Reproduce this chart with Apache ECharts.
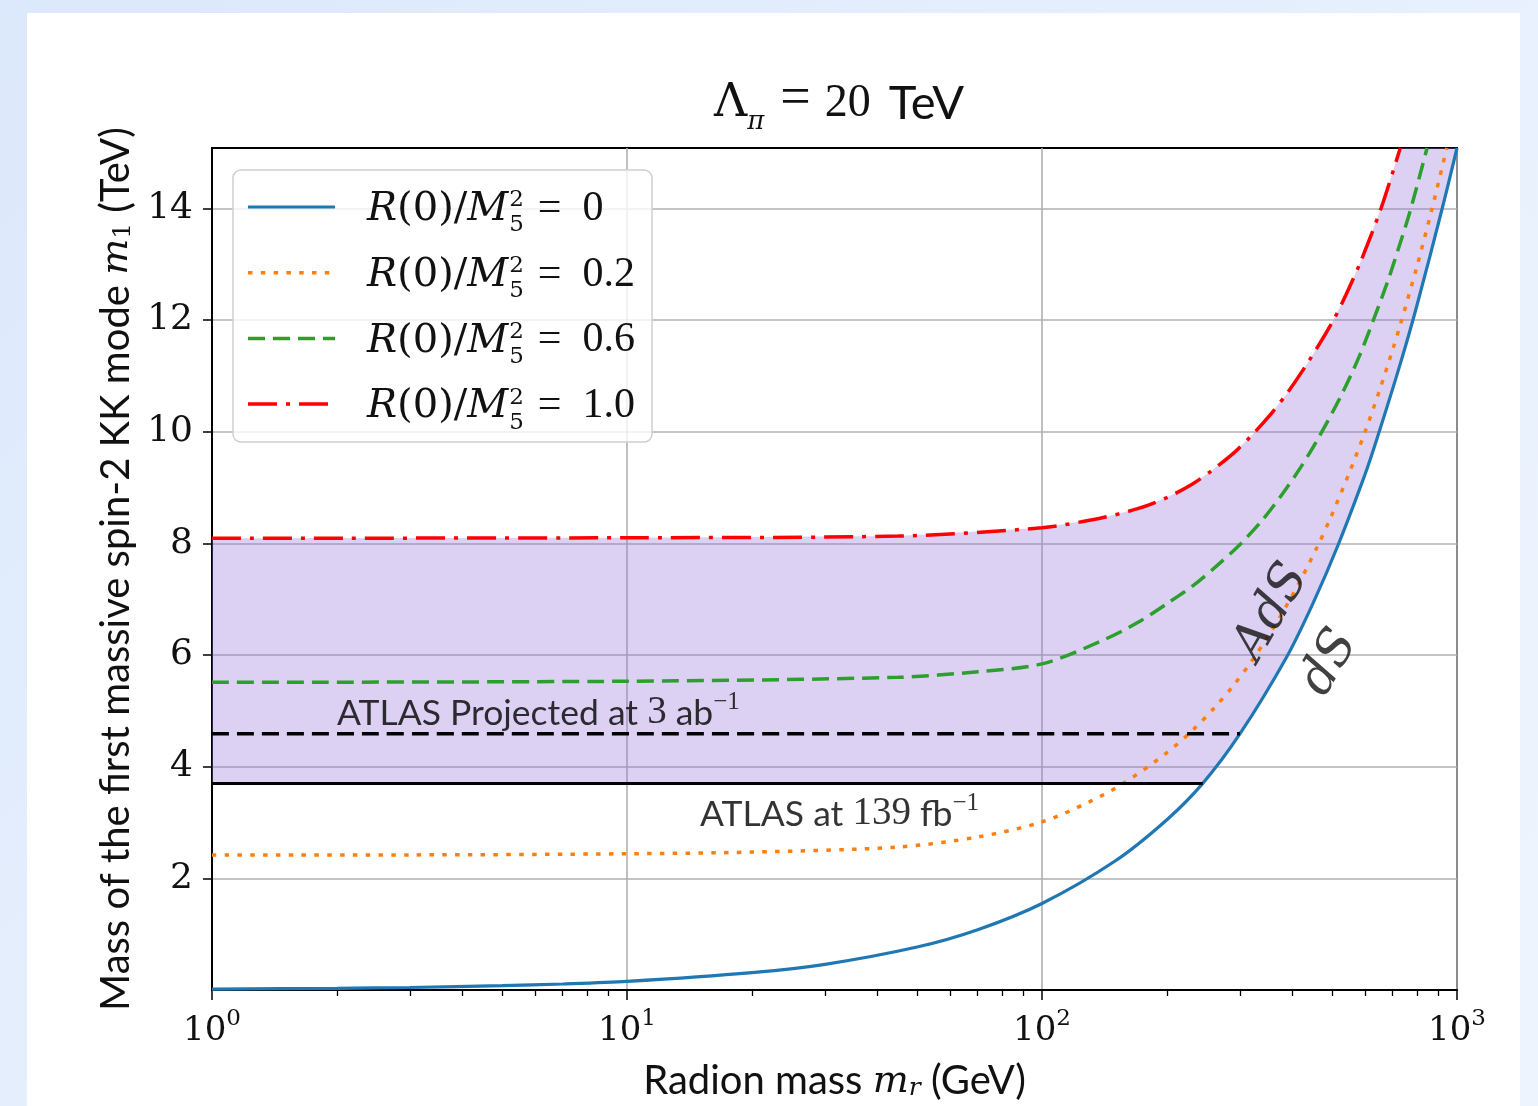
<!DOCTYPE html>
<html><head><meta charset="utf-8">
<script src="https://cdn.jsdelivr.net/npm/echarts@6/dist/echarts.min.js"></script>
<style>
html,body{margin:0;padding:0;width:1538px;height:1106px;overflow:hidden;background:linear-gradient(135deg,#dce8fb 0%,#e8f1fd 60%,#eef4fd 100%);}
#card{position:absolute;left:27px;top:13px;width:1493px;height:1093px;background:#fff;}
#chart{position:absolute;left:0;top:0;width:1538px;height:1106px;}
</style></head>
<body><div id="card"></div><div id="chart"></div>
<script>
// ---------------- data ----------------
const mrBlue = [1, 2, 3, 5, 7, 10, 20, 30, 50, 70, 100, 150, 200, 244, 300, 389, 450, 517, 600, 640, 729, 800, 925, 1000];
const m1Blue = [0.015, 0.03, 0.045, 0.077, 0.107, 0.153, 0.31, 0.46, 0.77, 1.08, 1.55, 2.31, 3.05, 3.70, 4.59, 5.97, 6.93, 7.97, 9.23, 9.85, 11.2, 12.25, 14.05, 15.08];

const mrOrange = [1, 3, 10, 20, 45, 70, 100, 130, 157, 200, 232, 260, 289, 320, 348, 380, 419, 460, 494, 552, 600, 650, 702, 729, 800, 871, 945];
const m1Orange = [2.42, 2.42, 2.44, 2.47, 2.56, 2.74, 3.01, 3.37, 3.70, 4.25, 4.67, 5.05, 5.45, 5.89, 6.3, 6.76, 7.33, 7.93, 8.43, 9.29, 9.99, 10.73, 11.5, 11.9, 12.95, 14.0, 15.08];

const mrGreen = [1, 10, 45, 70, 100, 138, 170, 200, 232, 264, 300, 340, 381, 420, 459, 522, 580, 629, 680, 722, 771, 847];
const m1Green = [5.51, 5.53, 5.60, 5.70, 5.84, 6.24, 6.58, 6.92, 7.25, 7.6, 7.98, 8.42, 8.9, 9.36, 9.83, 10.6, 11.33, 12.0, 12.68, 13.27, 13.95, 15.08];

const mrRed = [1, 10, 45, 100, 138, 170, 200, 230, 254, 290, 317, 350, 389, 440, 504, 540, 584, 656, 730];
const m1Red = [8.09, 8.10, 8.13, 8.28, 8.45, 8.62, 8.82, 9.06, 9.28, 9.62, 9.9, 10.25, 10.68, 11.27, 12.0, 12.45, 13.02, 14.0, 15.08];

const atlasNowX = [1, 244];   const atlasNowY = 3.70;   // ATLAS at 139 fb^-1
const atlasProjX = [1, 300];  const atlasProjY = 4.59;  // ATLAS projected 3 ab^-1

const legendValues = ['0', '0.2', '0.6', '1.0'];
const xTicksMajor = [1, 10, 100, 1000];
const xTicksMinor = [2,3,4,5,6,7,8,9, 20,30,40,50,60,70,80,90, 200,300,400,500,600,700,800,900];
const yTicks = [2, 4, 6, 8, 10, 12, 14];

const annoProj = [2.0, 5.0];
const anno139 = [15.0, 3.19];
const annoAdS = [358, 6.76];
const annoDS = [494, 5.86];

// ---------------- styling ----------------
const SERIF = "'DejaVu Serif', serif";
const SERIF2 = "'Liberation Serif', serif";
const SANS = "Lato, 'Open Sans', sans-serif";
const colors = ['#1f77b4', '#ff7f0e', '#2ca02c', '#ff0000'];
const widths = [3.2, 3.5, 3.5, 3.5];
const dashes = [null, [4.5, 8.3], [17, 8], [29, 9, 4, 9]];

const zip = (xs, ys) => xs.map((x, i) => [x, ys[i]]);
const fillPoly = zip(mrRed, m1Red)
  .concat(zip(mrBlue, m1Blue).filter(p => p[1] >= atlasNowY).reverse())
  .concat([[atlasNowX[0], atlasNowY]]);

function lineSeries(name, data, color, width, dash) {
  return {
    name, type: 'line', data, symbol: 'none', showSymbol: false,
    smooth: 0.3, z: 3, silent: true, clip: true,
    lineStyle: { color, width, type: dash || 'solid', cap: 'butt' }
  };
}

const series = [
  {
    type: 'custom', z: 1, silent: true, clip: true, data: [[1, 8]],
    renderItem: (params, api) => ({
      type: 'polygon',
      shape: { points: fillPoly.map(p => api.coord(p)) },
      style: { fill: 'rgba(147,112,219,0.32)' }
    })
  },
  lineSeries('R0', zip(mrBlue, m1Blue), colors[0], widths[0], dashes[0]),
  lineSeries('R0.2', zip(mrOrange, m1Orange), colors[1], widths[1], dashes[1]),
  lineSeries('R0.6', zip(mrGreen, m1Green), colors[2], widths[2], dashes[2]),
  lineSeries('R1.0', zip(mrRed, m1Red), colors[3], widths[3], dashes[3]),
  lineSeries('ATLAS139', atlasNowX.map(x => [x, atlasNowY]), '#000', 3, null),
  lineSeries('ATLASproj', atlasProjX.map(x => [x, atlasProjY]), '#000', 3.5, [17, 8]),
  {
    type: 'scatter', symbolSize: 0, silent: true, z: 5,
    data: [
      { value: annoProj, label: { show: true, position: 'right', distance: 0,
          formatter: '{s|ATLAS Projected at }{n|3}{s| ab}{sup|−1}' } },
      { value: anno139, label: { show: true, position: 'right', distance: 0,
          formatter: '{s|ATLAS at }{n|139}{s| fb}{sup|−1}' } },
      { value: annoAdS, label: { show: true, position: 'inside', rotate: 60,
          formatter: '{m|AdS}' } },
      { value: annoDS, label: { show: true, position: 'inside', rotate: 60,
          formatter: '{m|dS}' } }
    ],
    label: {
      color: '#000',
      rich: {
        s: { fontFamily: SANS, fontSize: 35.5, color: '#000', lineHeight: 42, verticalAlign: 'bottom' },
        n: { fontFamily: SERIF2, fontSize: 39, color: '#000', lineHeight: 42, verticalAlign: 'bottom' },
        sup: { fontFamily: SERIF2, fontSize: 25, color: '#000', lineHeight: 22, verticalAlign: 'top' },
        m: { fontFamily: SERIF, fontStyle: 'italic', fontSize: 50, color: '#111' }
      }
    }
  }
];

// ---------------- legend (drawn as graphic) ----------------
const mctx = document.createElement('canvas').getContext('2d');
function tw(text, font) { mctx.font = font; return mctx.measureText(text).width; }
const LF = 40, LFs = 23;
const fItal = `italic ${LF}px ${SERIF}`, fNorm = `${LF}px ${SERIF}`, fSmall = `${LFs}px ${SERIF}`;
const fVal = `42px ${SERIF2}`;
const graphics = [{
  type: 'rect', z: 10, silent: true,
  shape: { x: 233, y: 170, width: 419, height: 272, r: 8 },
  style: { fill: 'rgba(255,255,255,0.8)', stroke: '#cfcfcf', lineWidth: 1.5 }
}];
legendValues.forEach((val, i) => {
  const cy = 207 + i * 65.7;
  graphics.push({ type: 'line', z: 11, silent: true,
    shape: { x1: 248, y1: cy, x2: 335, y2: cy },
    style: { stroke: colors[i], lineWidth: widths[i], lineDash: dashes[i] || null } });
  let x = 367;
  const parts = [['R', fItal], ['(0)/', fNorm], ['M', fItal]];
  parts.forEach(([t, f]) => {
    graphics.push({ type: 'text', z: 11, silent: true, x, y: cy + 23,
      style: { text: t, font: f, fill: '#111', verticalAlign: 'bottom' } });
    x += tw(t, f);
  });
  const xs = x + 1;
  graphics.push({ type: 'text', z: 11, silent: true, x: xs, y: cy + 5,
    style: { text: '2', font: fSmall, fill: '#111', verticalAlign: 'bottom' } });
  graphics.push({ type: 'text', z: 11, silent: true, x: xs, y: cy + 30,
    style: { text: '5', font: fSmall, fill: '#111', verticalAlign: 'bottom' } });
  x = xs + tw('2', fSmall) + 14;
  graphics.push({ type: 'text', z: 11, silent: true, x, y: cy + 23,
    style: { text: '=  ' + val, font: fVal, fill: '#111', verticalAlign: 'bottom' } });
});

const option = {
  animation: false,
  backgroundColor: 'transparent',
  title: {
    text: '{L|Λ}{sub|π}{eq|=}{n|20}{s|TeV}',
    left: 834, top: 72, textAlign: 'center',
    textStyle: {
      fontWeight: 'normal',
      rich: {
        L: { fontFamily: SERIF, fontWeight: 'normal', fontSize: 46, color: '#111', lineHeight: 50, verticalAlign: 'bottom' },
        sub: { fontFamily: SERIF, fontWeight: 'normal', fontStyle: 'italic', fontSize: 26, color: '#111', lineHeight: 40, verticalAlign: 'bottom', padding: [0, 0, -8, 0] },
        eq: { fontFamily: SERIF2, fontWeight: 'normal', fontSize: 54, color: '#111', lineHeight: 50, verticalAlign: 'bottom', padding: [0, 14, 0, 16] },
        n: { fontFamily: SERIF2, fontWeight: 'normal', fontSize: 46, color: '#111', lineHeight: 50, verticalAlign: 'bottom', padding: [0, 18, 0, 0] },
        s: { fontFamily: SANS, fontWeight: 'normal', fontSize: 47, color: '#111', lineHeight: 50, verticalAlign: 'bottom' }
      }
    }
  },
  grid: { left: 212, right: 81, top: 148, bottom: 116, show: true, borderColor: '#000', borderWidth: 2, backgroundColor: 'transparent' },
  xAxis: [
    {
      type: 'log', logBase: 10, min: 1, max: 1000, position: 'bottom',
      axisLine: { show: true, lineStyle: { color: '#000', width: 2 } },
      axisTick: { show: true, length: 10, customValues: xTicksMajor, lineStyle: { color: '#000', width: 1.5 } },
      axisLabel: {
        customValues: xTicksMajor, margin: 18, color: '#111',
        formatter: v => '{b|10}{sup|' + Math.round(Math.log10(v)) + '}',
        rich: {
          b: { fontFamily: SERIF, fontSize: 34, color: '#111', lineHeight: 40, verticalAlign: 'bottom' },
          sup: { fontFamily: SERIF, fontSize: 23, color: '#111', lineHeight: 23, verticalAlign: 'top' }
        }
      },
      splitLine: { show: true, lineStyle: { color: '#b0b0b0', width: 1.6 } },
      name: '{s|Radion mass }{m|m}{sub|r}{s| (GeV)}',
      nameLocation: 'middle', nameGap: 65,
      nameTextStyle: {
        rich: {
          s: { fontFamily: SANS, fontSize: 40, color: '#111', lineHeight: 46, verticalAlign: 'bottom' },
          m: { fontFamily: SERIF, fontStyle: 'italic', fontSize: 38, color: '#111', lineHeight: 46, verticalAlign: 'bottom' },
          sub: { fontFamily: SERIF, fontStyle: 'italic', fontSize: 25, color: '#111', lineHeight: 36, verticalAlign: 'bottom' }
        }
      }
    },
    {
      type: 'log', logBase: 10, min: 1, max: 1000, position: 'bottom',
      axisLine: { show: false },
      axisTick: { show: true, length: 6, customValues: xTicksMinor, lineStyle: { color: '#000', width: 1.3 } },
      axisLabel: { show: false },
      splitLine: { show: false }
    }
  ],
  yAxis: {
    type: 'value', min: 0, max: 15.08, interval: 2,
    axisLine: { show: true, lineStyle: { color: '#000', width: 2 } },
    axisTick: { show: true, length: 9, customValues: yTicks, lineStyle: { color: '#000', width: 1.5 } },
    axisLabel: { customValues: yTicks, margin: 19, fontFamily: SERIF, fontSize: 36, color: '#111' },
    splitLine: { show: true, lineStyle: { color: '#b0b0b0', width: 1.6 } },
    name: '{s|Mass of the first massive spin-2 KK mode }{m|m}{sub|1}{s| (TeV)}',
    nameLocation: 'middle', nameRotate: 90, nameGap: 76,
    nameTextStyle: {
      rich: {
        s: { fontFamily: SANS, fontSize: 40, color: '#111', lineHeight: 46, verticalAlign: 'bottom' },
        m: { fontFamily: SERIF, fontStyle: 'italic', fontSize: 38, color: '#111', lineHeight: 46, verticalAlign: 'bottom' },
        sub: { fontFamily: SERIF, fontSize: 25, color: '#111', lineHeight: 36, verticalAlign: 'bottom' }
      }
    }
  },
  graphic: graphics,
  series
};

const chart = echarts.init(document.getElementById('chart'), null, { renderer: 'canvas' });
chart.setOption(option);
</script>
</body></html>
